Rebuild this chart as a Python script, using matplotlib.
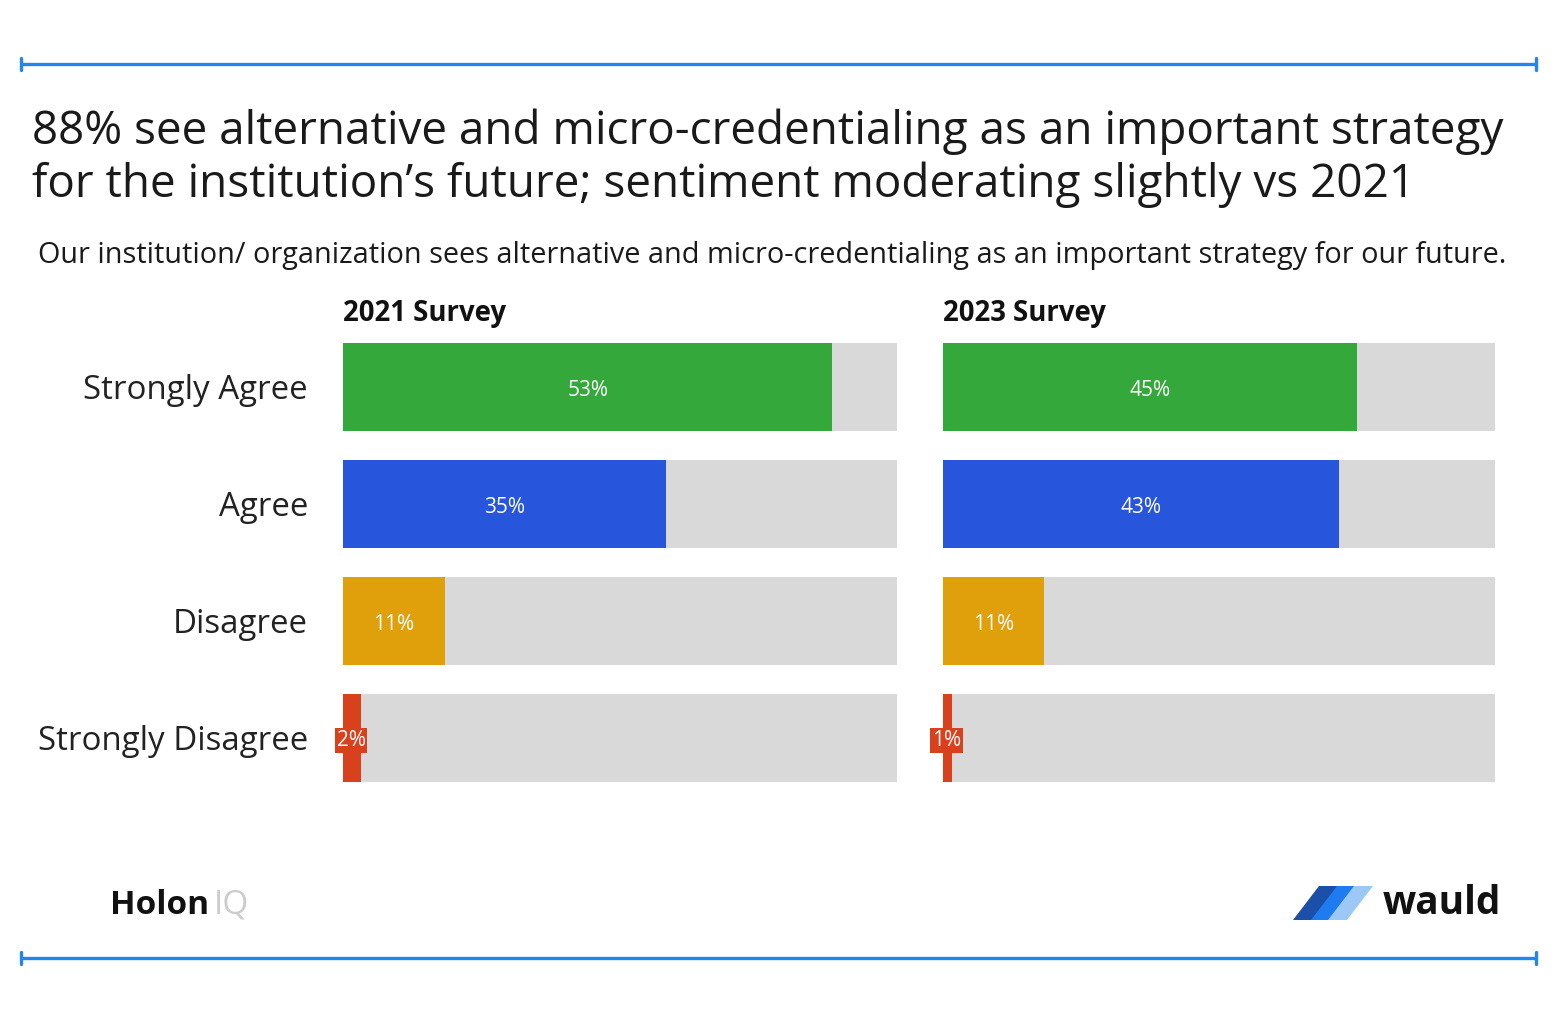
import numpy as np
import matplotlib.pyplot as plt
from matplotlib.patches import Polygon

plt.rcParams['font.family'] = ['Open Sans', 'DejaVu Sans']

categories = ['Strongly Agree', 'Agree', 'Disagree', 'Strongly Disagree']
surveys = ['2021 Survey', '2023 Survey']
values_2021 = [53, 35, 11, 2]
values_2023 = [45, 43, 11, 1]
colors = ['#34a83a', '#2755db', '#dfa00b', '#d9401c']
grey = '#d9d9d9'
xmax = 60

title = ("88% see alternative and micro-credentialing as an important strategy\n"
         "for the institution\u2019s future; sentiment moderating slightly vs 2021")
subtitle = ("Our institution/ organization sees alternative and micro-credentialing "
            "as an important strategy for our future.")

W, H = 1565, 1014
fig = plt.figure(figsize=(W / 100, H / 100), dpi=100)

# overlay in pixel coords for frame lines and logos
bg = fig.add_axes([0, 0, 1, 1])
bg.set_xlim(0, W)
bg.set_ylim(H, 0)
bg.axis('off')
line_c = '#2185f2'
for y in (64, 958):
    bg.plot([20, 1537], [y, y], color=line_c, lw=2.4, solid_capstyle='butt')
    for x in (21, 1536):
        bg.plot([x, x], [y - 6, y + 6], color=line_c, lw=2.4, solid_capstyle='round')

fig.text(32 / W, 1 - 158 / H, title, fontsize=33, color='#1a1a1a',
         va='center', ha='left', linespacing=1.18)
fig.text(38 / W, 1 - 255 / H, subtitle, fontsize=20.8, color='#1a1a1a',
         va='center', ha='left')

# Holon IQ logo
bg.text(110, 905, 'Holon', fontsize=24, fontweight='bold', color='#111111',
        va='center', ha='left')
bg.text(214, 905, 'IQ', fontsize=24, color='#cccccc', va='center', ha='left')

# wauld logo
shapes = [(1293, '#1b4fa8'), (1311, '#1e7bf0'), (1328, '#9cc8f5')]
for x0, c in shapes:
    bg.add_patch(Polygon([[x0, 920], [x0 + 26, 886], [x0 + 45, 886], [x0 + 19, 920]],
                         closed=True, color=c, lw=0))
bg.text(1383, 904, 'wauld', fontsize=28, fontweight='bold', color='#111111',
        va='center', ha='left')

panels = [(343, 554, values_2021), (943, 552, values_2023)]
y = np.arange(len(categories))
for i, (px, pw, vals) in enumerate(panels):
    ax = fig.add_axes([px / W, 1 - 796.5 / H, pw / W, 468 / H])
    ax.barh(y, [xmax] * len(y), height=0.76, color=grey)
    ax.barh(y, vals, height=0.76, color=colors)
    ax.set_xlim(0, xmax)
    ax.set_ylim(3.5, -0.5)
    ax.axis('off')
    for j, v in enumerate(vals):
        if v >= 5:
            ax.text(v / 2, j + 0.03, f'{v}%', color='white', fontsize=15,
                    ha='center', va='center')
        else:
            ax.text(v / 2 - 0.1, j + 0.02, f'{v}%', color='white', fontsize=15,
                    ha='center', va='center',
                    bbox=dict(boxstyle='square,pad=0.08', fc=colors[j], ec='none'))
    ax.text(0, -0.5 - 0.13, surveys[i], fontsize=19.8, fontweight='bold',
            color='#111111', ha='left', va='center')
    if i == 0:
        for j, c in enumerate(categories):
            ax.text(-35 / pw * xmax, j + 0.03, c, fontsize=23.8, color='#222222',
                    ha='right', va='center')

fig.savefig('out.png', dpi=100)
